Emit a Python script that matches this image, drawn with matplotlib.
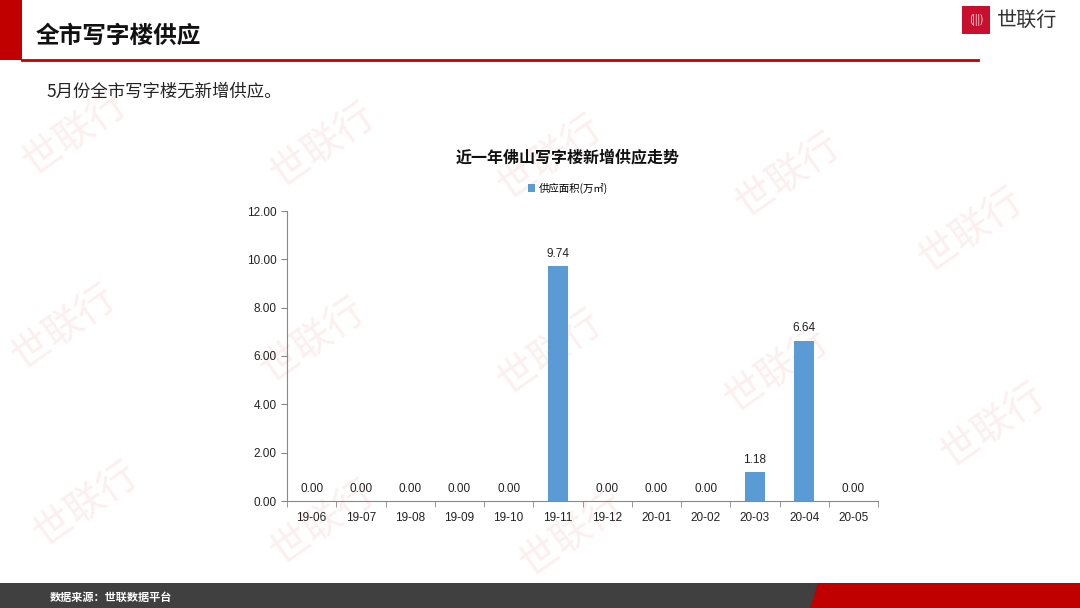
import matplotlib.pyplot as plt
from matplotlib.patches import Rectangle, Polygon
import numpy as np

plt.rcParams['font.family'] = ['Noto Sans CJK SC', 'DejaVu Sans']

# data
months = ['19-06', '19-07', '19-08', '19-09', '19-10', '19-11',
          '19-12', '20-01', '20-02', '20-03', '20-04', '20-05']
supply = [0.00, 0.00, 0.00, 0.00, 0.00, 9.74, 0.00, 0.00, 0.00, 1.18, 6.64, 0.00]

fig = plt.figure(figsize=(10.8, 6.08), dpi=100)
fig.patch.set_facecolor('white')

# faint watermarks (kept behind everything)
for (wx, wy) in [(0.07, 0.78), (0.30, 0.76), (0.51, 0.74), (0.73, 0.71), (0.90, 0.62),
                 (0.06, 0.46), (0.29, 0.44), (0.51, 0.42), (0.72, 0.39), (0.92, 0.30),
                 (0.08, 0.17), (0.30, 0.14), (0.53, 0.12)]:
    fig.text(wx, wy, '世联行', fontsize=28, color='#fcefef', rotation=35,
             ha='center', va='center', zorder=-5)

# header
fig.patches.append(Rectangle((0, 1 - 60/608), 22/1080, 60/608, transform=fig.transFigure,
                             facecolor='#c00000', edgecolor='none'))
fig.lines.append(plt.Line2D([22/1080, 978/1080], [1 - 60/608, 1 - 60/608],
                            transform=fig.transFigure, color='#c00000', linewidth=2))
fig.text(36/1080, 1 - 36/608, '全市写字楼供应', fontsize=17, fontweight='bold',
         color='#111111', va='center')
fig.text(46/1080, 1 - 92/608, '5月份全市写字楼无新增供应。', fontsize=12.5,
         color='#222222', va='center')

# logo
fig.patches.append(Rectangle((962/1080, 1 - 34/608), 28/1080, 28/608, transform=fig.transFigure,
                             facecolor='#c8102e', edgecolor='none'))
fig.text(976/1080, 1 - 20/608, '(|||)', fontsize=7, color='white', ha='center', va='center')
fig.text(997/1080, 1 - 20/608, '世联行', fontsize=14.5, color='#333333', va='center')

# footer
fig.patches.append(Rectangle((0, 0), 1, 25/608, transform=fig.transFigure,
                             facecolor='#404040', edgecolor='none'))
fig.patches.append(Polygon([(818/1080, 25/608), (1, 25/608), (1, 0), (810/1080, 0)],
                           closed=True, transform=fig.transFigure,
                           facecolor='#c00000', edgecolor='none'))
fig.text(50/1080, 11/608, '数据来源：世联数据平台', fontsize=8, fontweight='bold',
         color='white', va='center')

# chart
ax = fig.add_axes([287/1080, 107/608, 591/1080, 290/608], zorder=2)
x = np.arange(len(months))
ax.bar(x, supply, width=0.4, color='#5B9BD5', label='供应面积(万㎡)', zorder=3)
for xi, v in zip(x, supply):
    ax.text(xi, v + 0.25, f'{v:.2f}', ha='center', va='bottom', fontsize=8.5,
            color='#222222', family=['Liberation Sans', 'DejaVu Sans'])

ax.set_xlim(-0.5, len(months) - 0.5)
ax.set_ylim(0, 12)
ax.set_yticks(np.arange(0, 12.01, 2))
ax.set_yticklabels([f'{t:.2f}' for t in np.arange(0, 12.01, 2)],
                   family=['Liberation Sans', 'DejaVu Sans'])
ax.set_xticks(x)
ax.set_xticklabels(months, family=['Liberation Sans', 'DejaVu Sans'])
ax.set_xticks(np.arange(-0.5, len(months)), minor=True)
ax.tick_params(axis='x', which='major', length=0, labelsize=8.5, pad=8, colors='#222222')
ax.tick_params(axis='x', which='minor', length=4, color='#888888')
ax.tick_params(axis='y', length=4, labelsize=8.5, color='#888888', labelcolor='#222222')
for s in ['top', 'right']:
    ax.spines[s].set_visible(False)
for s in ['left', 'bottom']:
    ax.spines[s].set_color('#888888')
ax.patch.set_alpha(0)

fig.text(568/1080, 1 - 157/608, '近一年佛山写字楼新增供应走势', fontsize=11.5,
         fontweight='bold', color='#111111', ha='center', va='center')
ax.legend(loc='center', bbox_to_anchor=(568/1080, 1 - 188/608), bbox_transform=fig.transFigure,
          frameon=False, fontsize=7.5, handlelength=0.7, handleheight=0.7, handletextpad=0.3)

fig.savefig('out.png', dpi=100)
